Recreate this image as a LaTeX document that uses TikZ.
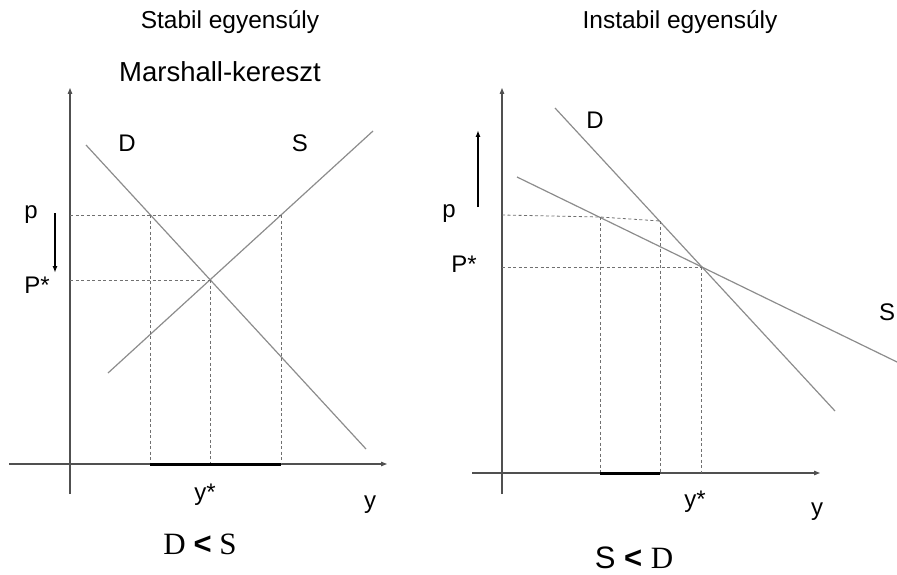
\documentclass[tikz,border=0pt]{standalone}
\usepackage{fontspec}
\setmainfont{Liberation Sans}
\newfontfamily\timesfont{Liberation Serif}
\newfontfamily\arialfont{Liberation Sans}
\usepackage{tikz}
\usetikzlibrary{arrows.meta}
\definecolor{curvegray}{HTML}{8C8C8C}
\definecolor{dashgray}{HTML}{707070}
\definecolor{axisgray}{HTML}{505050}

\begin{document}
\begin{tikzpicture}[x=1pt, y=-1pt,
  axis/.style={draw=axisgray, line width=1.1pt, -{Triangle[length=6pt, width=4.5pt]}},
  curve/.style={draw=curvegray, line width=1.2pt},
  guide/.style={draw=dashgray, line width=0.8pt, dash pattern=on 3pt off 2.5pt},
  gap/.style={draw=black, line width=3pt},
  move/.style={draw=black, line width=1.6pt, -{Latex[length=7pt, width=5pt]}},
  lbl/.style={font=\fontsize{24}{28}\selectfont, inner sep=0pt},
  ttl/.style={font=\fontsize{24.5}{28}\selectfont, inner sep=0pt},
  rel/.style={font=\fontsize{31}{35}\selectfont, inner sep=0pt}
]
  \useasboundingbox (0,0) rectangle (897,575);

  % left: stable equilibrium
  \node[ttl] (ttl1) at (230,22) {Stabil egyensúly};
  \node[font=\fontsize{27.5}{31}\selectfont, inner sep=0pt] (marsh) at (220,72) {Marshall-kereszt};

  \coordinate (ay1) at (70,494);
  \coordinate (ty1) at (70,88);
  \coordinate (ax1) at (9,464);
  \coordinate (tx1) at (387,464);
  \draw[axis] (ay1) -- (ty1);
  \draw[axis] (ax1) -- (tx1);

  \coordinate (d1a) at (86,145);
  \coordinate (d1b) at (366,449);
  \coordinate (s1a) at (108,373);
  \coordinate (s1b) at (373,131);
  \draw[curve] (d1a) -- (d1b);
  \draw[curve] (s1a) -- (s1b);

  \coordinate (p1) at (70,215);
  \coordinate (pd1) at (150,215);
  \coordinate (ps1) at (281,215);
  \coordinate (e1) at (210,280);
  \coordinate (pe1) at (70,280);
  \draw[guide] (p1) -- (ps1);
  \draw[guide] (pe1) -- (e1);
  \draw[guide] (pd1) -- (pd1 |- ax1);
  \draw[guide] (ps1) -- (ps1 |- ax1);
  \draw[guide] (e1) -- (e1 |- ax1);
  \draw[gap] (pd1 |- ax1) -- (ps1 |- ax1);

  \node[lbl] (dl1) at (127,143) {D};
  \node[lbl] (sl1) at (300,143) {S};
  \node[lbl] (pl1) at (31,215) {p};
  \node[lbl] (pst1) at (37,285) {P*};
  \coordinate (m1a) at (55,213);
  \coordinate (m1b) at (55,273);
  \draw[move] (m1a) -- (m1b);
  \node[lbl] (yst1) at (205,495) {y*};
  \node[lbl] (yl1) at (370,505) {y};
  \node[rel] (rel1) at (200,544) {\timesfont D {\arialfont\bfseries <} S};

  % right: unstable equilibrium
  \node[ttl] (ttl2) at (680,22) {Instabil egyensúly};

  \coordinate (ay2) at (502,494);
  \coordinate (ty2) at (502,88);
  \coordinate (ax2) at (472,473);
  \coordinate (tx2) at (820,473);
  \draw[axis] (ay2) -- (ty2);
  \draw[axis] (ax2) -- (tx2);

  \coordinate (d2a) at (555,108);
  \coordinate (d2b) at (835,411);
  \coordinate (s2a) at (517,177);
  \coordinate (s2b) at (897,362);
  \draw[curve] (d2a) -- (d2b);
  \draw[curve] (s2a) -- (s2b);

  \coordinate (p2) at (502,215);
  \coordinate (ps2) at (600,217);
  \coordinate (pd2) at (660,221);
  \coordinate (e2) at (701,267);
  \coordinate (pe2) at (502,267);
  \draw[guide] (p2) -- (ps2) -- (pd2);
  \draw[guide] (pe2) -- (e2);
  \draw[guide] (ps2) -- (ps2 |- ax2);
  \draw[guide] (pd2) -- (pd2 |- ax2);
  \draw[guide] (e2) -- (e2 |- ax2);
  \draw[gap] (ps2 |- ax2) -- (pd2 |- ax2);

  \node[lbl] (dl2) at (595,120) {D};
  \node[lbl] (sl2) at (887,312) {S};
  \node[lbl] (pl2) at (449,214) {p};
  \node[lbl] (pst2) at (464,264) {P*};
  \coordinate (m2a) at (478,207);
  \coordinate (m2b) at (478,130);
  \draw[move] (m2a) -- (m2b);
  \node[lbl] (yst2) at (695,502) {y*};
  \node[lbl] (yl2) at (817,512) {y};
  \node[rel] (rel2) at (634,558) {S {\bfseries <} \timesfont D};
\end{tikzpicture}
\end{document}
